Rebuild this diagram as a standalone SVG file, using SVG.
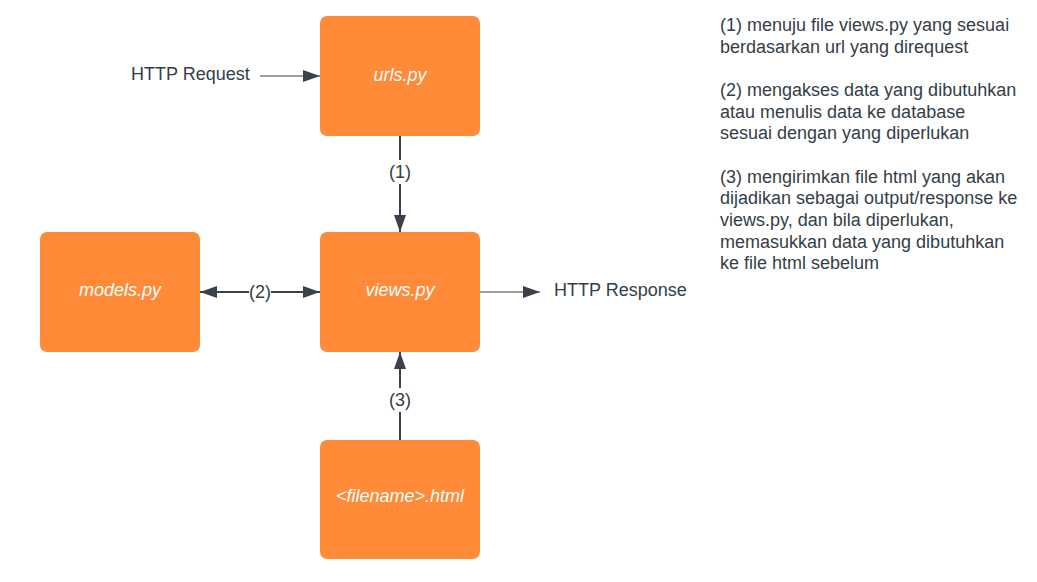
<svg xmlns="http://www.w3.org/2000/svg" width="1037" height="582" viewBox="0 0 1037 582">
<defs>
<style>
.box{fill:#ff8a38;}
.lbl{font-family:"Liberation Sans",Arial,sans-serif;font-size:18px;font-style:italic;fill:#ffffff;text-anchor:middle;}
.txt{font-family:"Liberation Sans",Arial,sans-serif;font-size:18px;fill:#333e48;}
.elbl{font-family:"Liberation Sans",Arial,sans-serif;font-size:18px;fill:#333e48;text-anchor:middle;}
.thin{stroke:#3a414a;stroke-width:1.2;fill:none;}
.thick{stroke:#3a414a;stroke-width:2;fill:none;}
</style>
<marker id="ah" viewBox="0 0 17 12" refX="17" refY="6" markerWidth="17" markerHeight="12" markerUnits="userSpaceOnUse" orient="auto-start-reverse">
<path d="M0,0 L17,6 L0,12 Z" fill="#3a414a"/>
</marker>
</defs>
<rect width="1037" height="582" fill="#ffffff"/>
<g id="connectors">
<line class="thin" x1="260" y1="76" x2="320" y2="76" marker-end="url(#ah)"/>
<line class="thick" x1="400" y1="136" x2="400" y2="232" marker-end="url(#ah)"/>
<rect x="387" y="160" width="26" height="24" fill="#ffffff"/>
<text class="elbl" x="400" y="178">(1)</text>
<line class="thick" x1="200" y1="292" x2="320" y2="292" marker-start="url(#ah)" marker-end="url(#ah)"/>
<rect x="249" y="281" width="22" height="22" fill="#ffffff"/>
<text class="elbl" x="260" y="298">(2)</text>
<line class="thin" x1="480" y1="292" x2="540" y2="292" marker-end="url(#ah)"/>
<line class="thick" x1="400" y1="440" x2="400" y2="352" marker-end="url(#ah)"/>
<rect x="387" y="388" width="26" height="24" fill="#ffffff"/>
<text class="elbl" x="400" y="406">(3)</text>
</g>
<g id="node-http-request"><text class="txt" x="131" y="80">HTTP Request</text></g>
<g id="node-urls"><rect class="box" x="320" y="16" width="160" height="120" rx="7"/><text class="lbl" x="400" y="81">urls.py</text></g>
<g id="node-models"><rect class="box" x="40" y="232" width="160" height="120" rx="7"/><text class="lbl" x="120" y="296">models.py</text></g>
<g id="node-views"><rect class="box" x="320" y="232" width="160" height="120" rx="7"/><text class="lbl" x="400" y="296">views.py</text></g>
<g id="node-http-response"><text class="txt" x="554" y="296">HTTP Response</text></g>
<g id="node-html"><rect class="box" x="320" y="440" width="160" height="119" rx="7"/><text class="lbl" x="400" y="502">&lt;filename&gt;.html</text></g>
<g id="node-notes">
<text class="txt" x="720" y="31">(1) menuju file views.py yang sesuai</text>
<text class="txt" x="720" y="53">berdasarkan url yang direquest</text>
<text class="txt" x="720" y="96">(2) mengakses data yang dibutuhkan</text>
<text class="txt" x="720" y="118">atau menulis data ke database</text>
<text class="txt" x="720" y="139">sesuai dengan yang diperlukan</text>
<text class="txt" x="720" y="183">(3) mengirimkan file html yang akan</text>
<text class="txt" x="720" y="204">dijadikan sebagai output/response ke</text>
<text class="txt" x="720" y="226">views.py, dan bila diperlukan,</text>
<text class="txt" x="720" y="248">memasukkan data yang dibutuhkan</text>
<text class="txt" x="720" y="269">ke file html sebelum</text>
</g>
</svg>
